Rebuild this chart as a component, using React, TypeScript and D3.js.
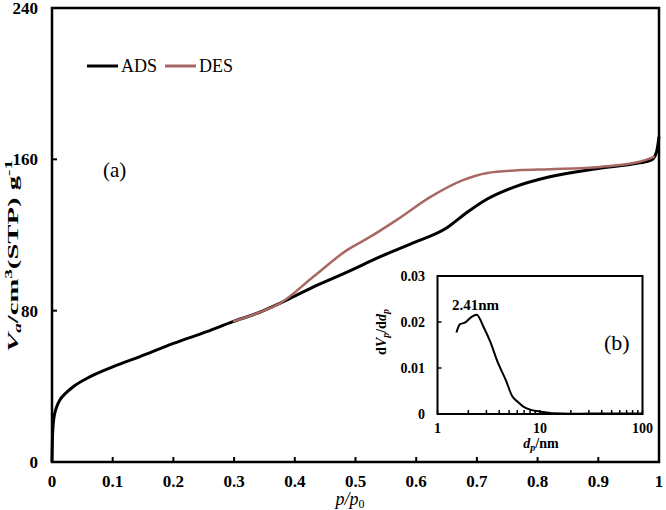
import React from "react";
import * as d3 from "d3";

const adsP = [0, 0.001, 0.003, 0.007, 0.013, 0.022, 0.035, 0.063, 0.101, 0.145, 0.2, 0.255, 0.298, 0.34, 0.376, 0.43, 0.486, 0.54, 0.595, 0.65, 0.684, 0.717, 0.76, 0.82, 0.9, 0.966, 0.988, 0.996, 1.0];
const adsV = [0, 15, 23, 28.5, 32.8, 36.2, 39.8, 45.1, 50.4, 55.7, 62.7, 68.9, 74.2, 78.9, 84, 92.5, 100.4, 108.4, 115.8, 123.7, 132, 139, 145.2, 150.8, 155.2, 158, 159.7, 164, 172];
const desP = [0.298, 0.34, 0.376, 0.43, 0.486, 0.524, 0.568, 0.623, 0.677, 0.717, 0.771, 0.82, 0.903, 0.968, 0.993];
const desV = [74.2, 78.9, 84, 97.8, 112, 119, 128, 140, 149, 152.8, 154.3, 154.8, 156, 158.7, 161.4];
const psdD = [1.53, 1.65, 1.87, 2.09, 2.41, 2.83, 3.3, 3.83, 4.63, 5.38, 6.03, 7.0, 8.15, 10.2, 13.8, 20, 30, 50, 100];
const psdV = [0.0177, 0.0195, 0.0199, 0.0209, 0.0216, 0.0188, 0.0155, 0.0115, 0.0074, 0.0038, 0.0027, 0.0015, 0.0009, 0.0005, 0.00015, 0.00005, 0.0001, 0.0001, 0.0001];
const xTicks = [0, 0.1, 0.2, 0.3, 0.4, 0.5, 0.6, 0.7, 0.8, 0.9, 1];
const xTickLabels = ["0", "0.1", "0.2", "0.3", "0.4", "0.5", "0.6", "0.7", "0.8", "0.9", "1"];
const yTicks = [0, 80, 160, 240];
const insetYTicks = [0, 0.01, 0.02, 0.03];
const insetYLabels = ["0", "0.01", "0.02", "0.03"];
const insetXTicks = [1, 10, 100];

const FONT = "Liberation Serif, Times New Roman, serif";
const ADS_COLOR = "#000000";
const DES_COLOR = "#a86864";

export default function App() {
  const x = d3.scaleLinear().domain([0, 1]).range([52, 659]);
  const y = d3.scaleLinear().domain([0, 240]).range([462, 8]);
  const line = d3
    .line<[number, number]>()
    .x((d) => x(d[0]))
    .y((d) => y(d[1]))
    .curve(d3.curveMonotoneX);
  const ads = adsP.map((p, i) => [p, adsV[i]] as [number, number]);
  const des = desP.map((p, i) => [p, desV[i]] as [number, number]);

  const ix = d3.scaleLog().domain([1, 100]).range([437.5, 642.5]);
  const iy = d3.scaleLinear().domain([0, 0.03]).range([414, 276]);
  const iline = d3
    .line<[number, number]>()
    .x((d) => ix(d[0]))
    .y((d) => iy(d[1]))
    .curve(d3.curveMonotoneX);
  const psd = psdD.map((dd, i) => [dd, psdV[i]] as [number, number]);
  const minor: number[] = [];
  [1, 10].forEach((dec) => {
    for (let k = 2; k <= 9; k++) minor.push(dec * k);
  });

  return (
    <svg width={666} height={510} style={{ position: "absolute", left: 0, top: 0, background: "#fff", fontFamily: FONT }}>
      <rect x={0} y={0} width={666} height={510} fill="#fff" />
      {/* main frame */}
      <rect x={x(0)} y={y(240)} width={x(1) - x(0)} height={y(0) - y(240)} fill="none" stroke="#000" strokeWidth={2.5} />
      {xTicks.map((t) => (
        <line key={"xt" + t} x1={x(t)} x2={x(t)} y1={y(0)} y2={y(0) - 5} stroke="#000" strokeWidth={2} />
      ))}
      {yTicks.map((t) => (
        <line key={"yt" + t} x1={x(0)} x2={x(0) + 5} y1={y(t)} y2={y(t)} stroke="#000" strokeWidth={2} />
      ))}
      {xTicks.map((t, i) => (
        <text key={"xl" + t} x={x(t)} y={487} textAnchor="middle" fontSize={17} fontWeight="bold">
          {xTickLabels[i]}
        </text>
      ))}
      {yTicks.map((t) => (
        <text key={"yl" + t} x={38} y={y(t) + 6} textAnchor="end" fontSize={17} fontWeight="bold">
          {t}
        </text>
      ))}
      <text x={350} y={505} textAnchor="middle" fontSize={18} fontStyle="italic">
        p/p<tspan fontStyle="normal" fontSize={12} dy={3}>0</tspan>
      </text>
      <text transform="translate(18,256) rotate(-90)" textAnchor="middle" fontSize={15} fontWeight="bold" textLength={192} lengthAdjust="spacingAndGlyphs">
        <tspan fontStyle="italic">V</tspan>
        <tspan fontStyle="italic" fontSize={10} dy={3}>a</tspan>
        <tspan dy={-3}>/cm</tspan>
        <tspan fontSize={10} dy={-6}>3</tspan>
        <tspan dy={6}>(STP) g</tspan>
        <tspan fontSize={10} dy={-6}>-1</tspan>
      </text>

      {/* curves */}
      <path d={line(ads) || ""} fill="none" stroke={ADS_COLOR} strokeWidth={3} />
      <path d={line(des) || ""} fill="none" stroke={DES_COLOR} strokeWidth={2.5} />

      {/* legend */}
      <line x1={87} x2={118} y1={66} y2={66} stroke={ADS_COLOR} strokeWidth={3} />
      <text x={121} y={72} fontSize={18}>ADS</text>
      <line x1={165} x2={196} y1={66} y2={66} stroke={DES_COLOR} strokeWidth={3} />
      <text x={199} y={72} fontSize={18}>DES</text>
      <text x={103} y={177} fontSize={21}>(a)</text>

      {/* inset */}
      <rect x={ix(1)} y={iy(0.03)} width={ix(100) - ix(1)} height={iy(0) - iy(0.03)} fill="#fff" stroke="#000" strokeWidth={2} />
      {insetYTicks.map((t) => (
        <line key={"iyt" + t} x1={ix(1)} x2={ix(1) + 4} y1={iy(t)} y2={iy(t)} stroke="#000" strokeWidth={1.5} />
      ))}
      {minor.concat(insetXTicks).map((t) => (
        <line key={"ixt" + t} x1={ix(t)} x2={ix(t)} y1={iy(0)} y2={iy(0) - 4} stroke="#000" strokeWidth={1.5} />
      ))}
      {insetYLabels.map((lab, i) => (
        <text key={"iyl" + lab} x={425} y={iy(insetYTicks[i]) + 5} textAnchor="end" fontSize={14} fontWeight="bold">
          {lab}
        </text>
      ))}
      {insetXTicks.map((t) => (
        <text key={"ixl" + t} x={ix(t)} y={433} textAnchor="middle" fontSize={14} fontWeight="bold">
          {t}
        </text>
      ))}
      <text x={541} y={448} textAnchor="middle" fontSize={14} fontWeight="bold">
        <tspan fontStyle="italic">d</tspan>
        <tspan fontStyle="italic" fontSize={10} dy={3}>p</tspan>
        <tspan dy={-3}>/nm</tspan>
      </text>
      <text transform="translate(386,332) rotate(-90)" textAnchor="middle" fontSize={14} fontWeight="bold">
        d<tspan fontStyle="italic">V</tspan>
        <tspan fontStyle="italic" fontSize={10} dy={3}>p</tspan>
        <tspan dy={-3}>/d</tspan>
        <tspan fontStyle="italic">d</tspan>
        <tspan fontStyle="italic" fontSize={10} dy={3}>p</tspan>
      </text>
      <path d={iline(psd) || ""} fill="none" stroke="#000" strokeWidth={2} />
      <text x={452} y={310} fontSize={15} fontWeight="bold">2.41nm</text>
      <text x={604} y={350} fontSize={22}>(b)</text>
    </svg>
  );
}
